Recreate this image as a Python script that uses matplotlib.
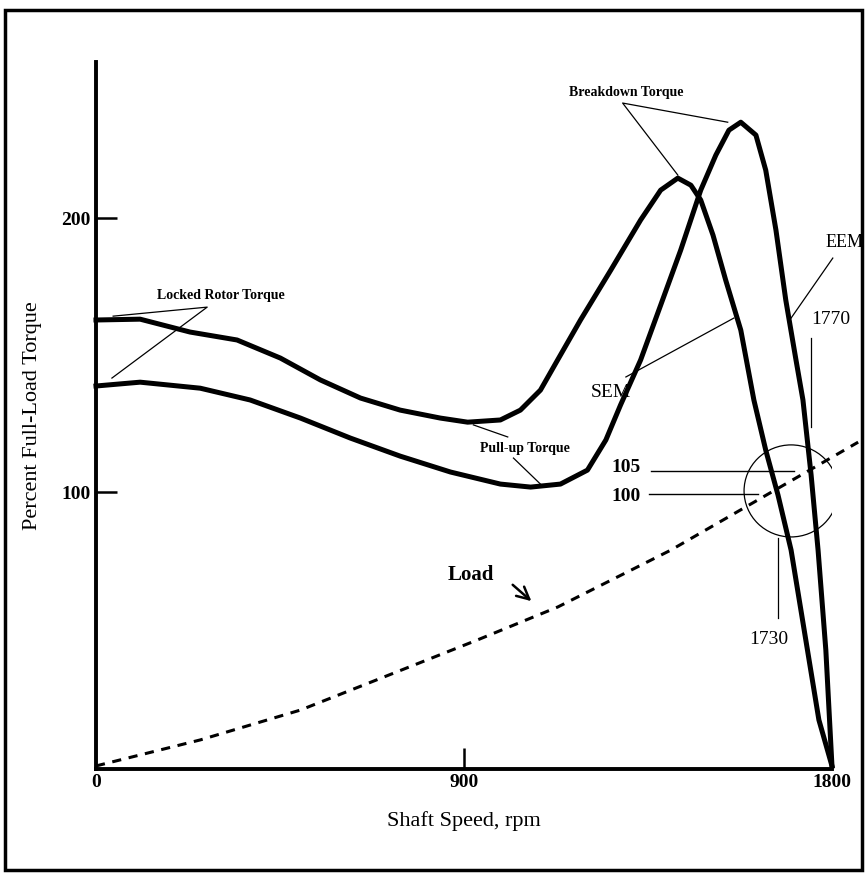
import numpy as np
import matplotlib
matplotlib.use("Agg")
import matplotlib.pyplot as plt
from matplotlib.patches import Rectangle, Ellipse

plt.rcParams['font.family'] = ['Liberation Serif', 'DejaVu Serif']

# standard efficiency motor (higher locked rotor torque)
sem_rpm = [0, 108, 230, 345, 451, 549, 647, 744, 842, 909, 989, 1038, 1087, 1129,
           1185, 1259, 1332, 1381, 1423, 1455, 1479, 1509, 1540, 1577, 1609, 1638,
           1668, 1700, 1736, 1768, 1800]
sem_pct = [162.8, 163.1, 158.4, 155.5, 148.9, 140.9, 134.3, 129.9, 127.0, 125.5, 126.3,
           129.9, 137.2, 148.2, 162.8, 181.0, 199.3, 210.2, 214.6, 212.0, 206.6, 193.8,
           177.4, 159.1, 133.6, 115.3, 98.9, 78.8, 46.0, 16.8, 0]

# energy efficient motor
eem_rpm = [0, 108, 255, 377, 500, 622, 744, 867, 989, 1063, 1136, 1202, 1247, 1283,
           1332, 1381, 1430, 1479, 1516, 1548, 1577, 1614, 1638, 1663, 1687, 1712,
           1729, 1749, 1766, 1785, 1800]
eem_pct = [138.7, 140.1, 137.9, 133.6, 127.0, 119.7, 113.1, 107.3, 102.9, 101.8, 102.9,
           108.0, 119.0, 131.8, 148.2, 168.2, 188.3, 210.2, 223.0, 232.1, 235.0, 230.3,
           217.5, 195.6, 170.1, 148.2, 133.6, 106.2, 78.8, 42.3, 0]

# load torque
load_rpm = [0, 255, 500, 933, 1129, 1406, 1864]
load_pct = [0, 9.5, 20.4, 46.0, 58.0, 78.8, 118.2]

fig = plt.figure(figsize=(8.67, 8.75), dpi=100)
ax = fig.add_axes([0.1107, 0.1215, 0.8489, 0.8077])

ax.plot(sem_rpm, sem_pct, color='black', lw=3.6, solid_joinstyle='round', clip_on=False)
ax.plot(eem_rpm, eem_pct, color='black', lw=3.6, solid_joinstyle='round', clip_on=False)
ax.plot(load_rpm, load_pct, color='black', lw=2.2, ls=(0, (3, 2.5)), clip_on=False)

ax.set_xlim(0, 1800)
ax.set_ylim(-1, 257)
for s in ['top', 'right']:
    ax.spines[s].set_visible(False)
for s in ['left', 'bottom']:
    ax.spines[s].set_linewidth(2.8)

ax.set_xticks([0, 900, 1800])
ax.set_xticklabels(['0', '900', '1800'])
ax.set_yticks([100, 200])
ax.set_yticklabels(['100', '200'])
ax.tick_params(axis='both', direction='in', length=15, width=1.8,
               labelsize=14, pad=4)
for t in ax.get_xticklabels() + ax.get_yticklabels():
    t.set_fontweight('bold')
ax.xaxis.get_major_ticks()[0].tick1line.set_visible(False)
ax.xaxis.get_major_ticks()[2].tick1line.set_visible(False)

ax.set_xlabel('Shaft Speed, rpm', fontsize=16, labelpad=14)
ax.set_ylabel('Percent Full-Load Torque', fontsize=16, labelpad=14)

small = dict(fontsize=10, fontweight='bold', ha='center', va='center')
ax.text(1298, 246, 'Breakdown Torque', **small)
ax.plot([1423, 1288, 1545], [215.7, 242, 235], color='black', lw=0.9)

ax.text(306, 171.9, 'Locked Rotor Torque', **small)
ax.plot([42, 272, 39], [164.2, 167.5, 141.6], color='black', lw=0.9)

ax.text(1048, 116, 'Pull-up Torque', **small)
ax.plot([923, 1007], [124.5, 120.1], color='black', lw=0.9)
ax.plot([1021, 1087], [112.4, 102.9], color='black', lw=0.9)

ax.text(916, 69.7, 'Load', fontsize=15, fontweight='bold', ha='center', va='center')
ax.annotate('', xy=(1070, 59.5), xytext=(1014, 66.8),
            arrowprops=dict(arrowstyle='->', lw=1.8, color='black', mutation_scale=22))

ax.text(1259, 136.5, 'SEM', fontsize=14, ha='center', va='center')
ax.plot([1296, 1560], [142, 163.5], color='black', lw=0.9)

ax.text(1830, 191.2, 'EEM', fontsize=13, ha='center', va='center', clip_on=False)
ax.plot([1802, 1700], [185.4, 163.5], color='black', lw=0.9, clip_on=False)

ax.text(1798, 162.8, '1770', fontsize=14, ha='center', va='center', clip_on=False)
ax.plot([1749, 1749], [156.2, 123.7], color='black', lw=0.9)

ax.text(1646, 46, '1730', fontsize=14, ha='center', va='center')
ax.plot([1668, 1668], [83.2, 54], color='black', lw=0.9)

ax.text(1296, 109.1, '105', fontsize=14, fontweight='bold', ha='center', va='center')
ax.plot([1357, 1707], [107.7, 107.7], color='black', lw=1.0)
ax.text(1296, 98.2, '100', fontsize=14, fontweight='bold', ha='center', va='center')
ax.plot([1352, 1619], [99.3, 99.3], color='black', lw=1.0)

ax.add_patch(Ellipse((1700, 100.4), 230, 33.6, fill=False, color='black', lw=0.9))

fig.patches.append(Rectangle((0.0058, 0.0057), 0.9885, 0.983, transform=fig.transFigure,
                             fill=False, edgecolor='black', lw=2.5))

fig.savefig('out.png', dpi=100)
